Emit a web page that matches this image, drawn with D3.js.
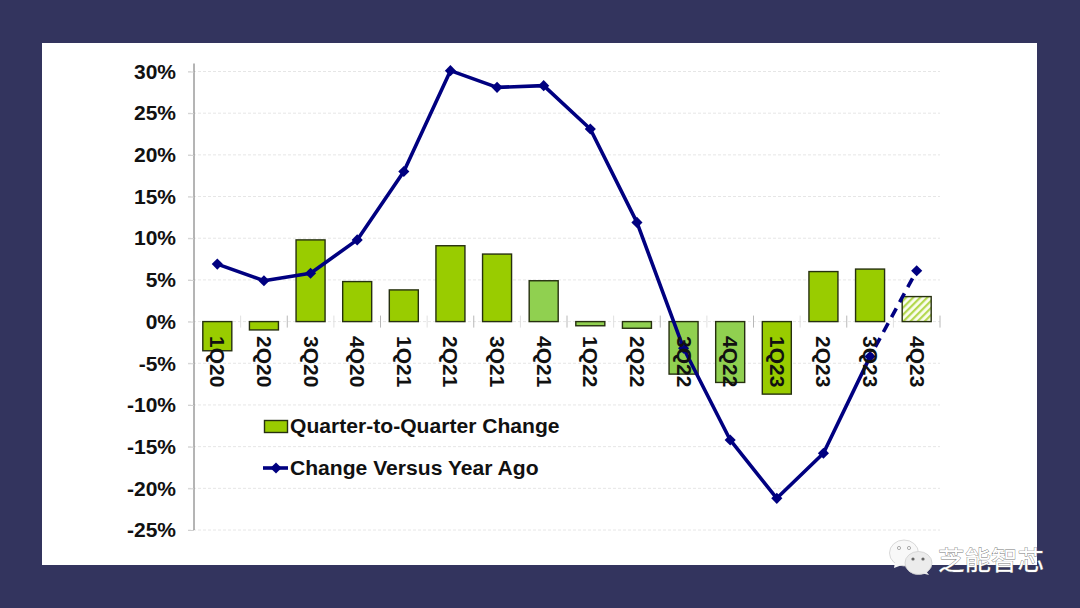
<!DOCTYPE html>
<html><head><meta charset="utf-8">
<script src="https://cdnjs.cloudflare.com/ajax/libs/d3/7.8.5/d3.min.js"></script>
<style>html,body{margin:0;padding:0;background:#33345e}svg{display:block}
text{font-family:"Liberation Sans",Arial,sans-serif;font-weight:bold;fill:#111}</style></head>
<body><svg id="c" width="1080" height="608"></svg>
<script>
const quarters=["1Q20","2Q20","3Q20","4Q20","1Q21","2Q21","3Q21","4Q21","1Q22","2Q22","3Q22","4Q22","1Q23","2Q23","3Q23","4Q23"];
const qoq=[-3.5,-1.0,9.8,4.8,3.8,9.1,8.1,4.9,-0.5,-0.8,-6.3,-7.3,-8.7,6.0,6.3,3.0];
const yoy=[6.9,4.9,5.8,9.8,18.0,30.1,28.1,28.3,23.1,11.9,-3.2,-14.2,-21.2,-15.8,-4.2,6.1];
const barStyle=["full","full","full","full","full","full","full","light","light","light","light","light","full","full","full","hatch"];
const yTicks=[30,25,20,15,10,5,0,-5,-10,-15,-20,-25];
const seriesNames=["Quarter-to-Quarter Change","Change Versus Year Ago"];
const watermark="芝能智芯";

const svg=d3.select("#c");
svg.append("rect").attr("width",1080).attr("height",608).attr("fill","#33345e");
svg.append("rect").attr("x",42).attr("y",43).attr("width",995).attr("height",522).attr("fill","#fff");
const defs=svg.append("defs");
const pat=defs.append("pattern").attr("id","hatch").attr("width",5).attr("height",5)
  .attr("patternUnits","userSpaceOnUse").attr("patternTransform","rotate(45)");
pat.append("rect").attr("width",5).attr("height",5).attr("fill","#fbfdf0");
pat.append("rect").attr("width",2.2).attr("height",5).attr("fill","#b4d850");

const y=d3.scaleLinear().domain([-25,30]).range([530,71.5]);
const x=d3.scaleBand().domain(quarters).range([194,940]).paddingInner(0.36).paddingOuter(0.18);
const cx=q=>x(q)+x.bandwidth()/2;

// grid
svg.append("g").selectAll("line").data(yTicks).join("line")
  .attr("x1",188).attr("x2",940).attr("y1",d=>y(d)).attr("y2",d=>y(d))
  .attr("stroke","#e6e6e6").attr("stroke-dasharray","3 2").attr("stroke-width",1);

// y axis
const yAxis=d3.axisLeft(y).tickValues(yTicks).tickFormat(d=>d+"%").tickSize(6).tickPadding(6);
const ga=svg.append("g").attr("transform","translate(194,0)").call(yAxis);
ga.select(".domain").attr("stroke","#6a6a6a").attr("d","M0,63.5V530");
ga.selectAll(".tick line").attr("stroke","#d0d0d0");
ga.selectAll("text").attr("font-size",21).attr("x",-18).attr("fill","#111")
  .style("font-family",'"Liberation Sans",Arial,sans-serif').style("font-weight","bold");

// x category ticks
const edges=d3.range(quarters.length+1).map(i=>194+i*(746/quarters.length));
svg.append("g").selectAll("line").data(edges).join("line")
  .attr("x1",d=>d).attr("x2",d=>d).attr("y1",y(0)-6).attr("y2",y(0)+6)
  .attr("stroke",(d,i)=>i%2?"#e0e0e0":"#b8b8b8").attr("stroke-width",1);

// bars
const fills={full:"#99cc00",light:"#90d050",hatch:"url(#hatch)"};
svg.append("g").selectAll("rect").data(quarters).join("rect")
  .attr("x",d=>cx(d)-14.5).attr("width",29)
  .attr("y",(d,i)=>y(Math.max(0,qoq[i])))
  .attr("height",(d,i)=>Math.abs(y(qoq[i])-y(0)))
  .attr("fill",(d,i)=>fills[barStyle[i]])
  .attr("stroke","#26300f").attr("stroke-width",1.4);

// line
const line=d3.line().x(d=>cx(d.q)).y(d=>y(d.v));
const pts=quarters.map((q,i)=>({q,v:yoy[i]}));
svg.append("path").datum(pts.slice(0,15)).attr("d",line).attr("fill","none")
  .attr("stroke","#000080").attr("stroke-width",3.6).attr("stroke-linejoin","round");
svg.append("path").datum(pts.slice(14)).attr("d",line).attr("fill","none")
  .attr("stroke","#000080").attr("stroke-width",3.6).attr("stroke-dasharray","10 7").attr("stroke-dashoffset",-11);
const marker=d3.symbol().type(d3.symbolSquare).size(62);
svg.append("g").selectAll("path").data(pts).join("path")
  .attr("d",marker).attr("fill","#000080")
  .attr("transform",d=>`translate(${cx(d.q)},${y(d.v)}) rotate(45)`);

// x labels (rotated 90deg)
svg.append("g").selectAll("text").data(quarters).join("text")
  .attr("transform",d=>`translate(${cx(d)-7},${y(0)+14.5}) rotate(90)`)
  .attr("font-size",21).text(d=>d);

// legend
svg.append("rect").attr("x",264.5).attr("y",420.5).attr("width",23).attr("height",12)
  .attr("fill","#99cc00").attr("stroke","#26300f").attr("stroke-width",1.4);
svg.append("text").attr("x",290).attr("y",433).attr("font-size",21.1).text(seriesNames[0]);
svg.append("line").attr("x1",263).attr("x2",288).attr("y1",468).attr("y2",468)
  .attr("stroke","#000080").attr("stroke-width",3.6);
svg.append("path").attr("d",marker).attr("fill","#000080")
  .attr("transform","translate(276,468) rotate(45)");
svg.append("text").attr("x",290).attr("y",475).attr("font-size",21.1).text(seriesNames[1]);

// watermark
const wm=svg.append("g");
const bubble=(g,cxx,cyy,rx,ry,tail,fill)=>{
  g.append("ellipse").attr("cx",cxx).attr("cy",cyy).attr("rx",rx).attr("ry",ry).attr("fill",fill).attr("stroke","#cfcfcf").attr("stroke-width",.8);
  g.append("path").attr("d",tail).attr("fill",fill);
};
bubble(wm,904,553,14.5,13,"M895,562L894,568L902,565Z","#f8f8f8");
bubble(wm,918.5,563,13.5,11.5,"M926,571L929,575L921,573Z","#ececec");
[[899,548],[909,548]].forEach(p=>wm.append("circle").attr("cx",p[0]).attr("cy",p[1]).attr("r",1.6).attr("fill","none").attr("stroke","#999").attr("stroke-width",.8));
[[913,559],[923,559]].forEach(p=>wm.append("circle").attr("cx",p[0]).attr("cy",p[1]).attr("r",1.6).attr("fill","#666"));
wm.append("text").attr("x",938).attr("y",570).attr("font-size",26.5)
  .style("font-family",'"Noto Sans CJK SC"').style("font-weight","400")
  .style("fill","#fff").style("paint-order","stroke").style("stroke","#777").style("stroke-width","0.8px")
  .text(watermark);
</script></body></html>
